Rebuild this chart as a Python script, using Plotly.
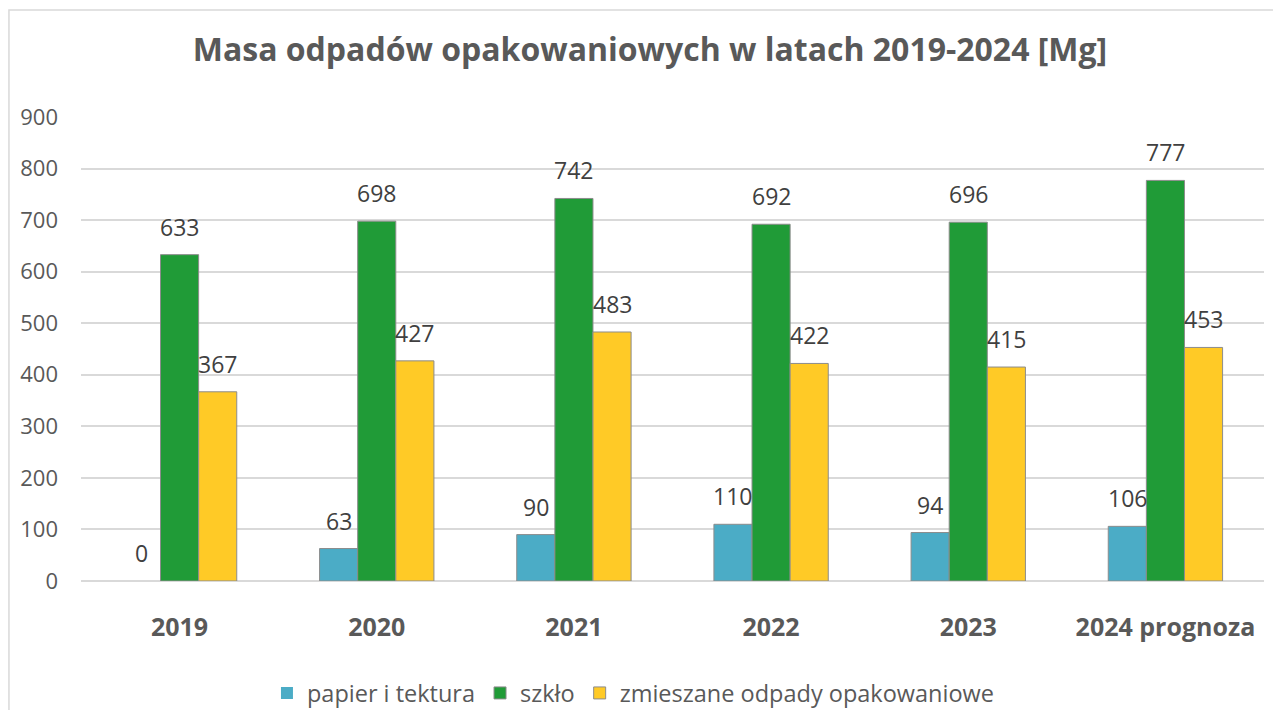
import plotly.graph_objects as go

categories = ["2019", "2020", "2021", "2022", "2023", "2024 prognoza"]
papier = [0, 63, 90, 110, 94, 106]
szklo = [633, 698, 742, 692, 696, 777]
zmieszane = [367, 427, 483, 422, 415, 453]

series = [
    ("papier i tektura", papier, "#4BACC6"),
    ("szkło", szklo, "#209B37"),
    ("zmieszane odpady opakowaniowe", zmieszane, "#FFCA26"),
]

BARGAP = 0.42
fig = go.Figure()
for k, (name, vals, col) in enumerate(series):
    fig.add_trace(go.Bar(
        x=categories, y=vals, name=name,
        marker=dict(color=col, line=dict(color="#8C8C8C",
                                         width=[0 if v == 0 else 1 for v in vals])),
        cliponaxis=False,
    ))
    off = (k - 1) * (1 - BARGAP) / 3
    for i, v in enumerate(vals):
        fig.add_annotation(x=i + off, y=v, xref="x", yref="y", text=str(v),
                           showarrow=False, yanchor="bottom", xanchor="center", yshift=10,
                           font=dict(family="Open Sans", size=23, color="#404040"))

fig.update_layout(
    width=1265, height=702,
    paper_bgcolor="white", plot_bgcolor="white",
    font=dict(family="Open Sans", color="#595959"),
    title=dict(text="<b>Masa odpadów opakowaniowych w latach 2019-2024 [Mg]</b>",
               x=0.5075, xanchor="center", y=0.94, yanchor="middle",
               font=dict(size=32, color="#595959")),
    margin=dict(l=73, r=9, t=109, b=129),
    barmode="group", bargap=BARGAP, bargroupgap=0,
    legend=dict(orientation="h", xref="paper", x=0.467, xanchor="center",
                yref="container", y=0.024, yanchor="middle",
                font=dict(size=23.5, color="#595959"), itemwidth=30,
                traceorder="normal"),
    showlegend=True,
)
fig.update_xaxes(automargin=False, showline=False, ticks="",
                 tickfont=dict(size=25, color="#595959", family="Open Sans"),
                 tickprefix="<b>", ticksuffix="</b>", ticklabelstandoff=29)
fig.update_yaxes(automargin=False, range=[0, 900], dtick=100, showgrid=True, gridcolor="#D9D9D9", gridwidth=1.5,
                 zeroline=True, zerolinecolor="#D9D9D9", zerolinewidth=2,
                 tickfont=dict(size=22, color="#595959", family="Open Sans"),
                 ticklabelstandoff=22)

fig.add_shape(type="rect", xref="paper", yref="paper",
              x0=-0.0609, x1=1.1, y0=-0.5, y1=1.2306,
              line=dict(color="#D9D9D9", width=1.5), fillcolor="rgba(0,0,0,0)", layer="below")

fig.write_html("out.html")
